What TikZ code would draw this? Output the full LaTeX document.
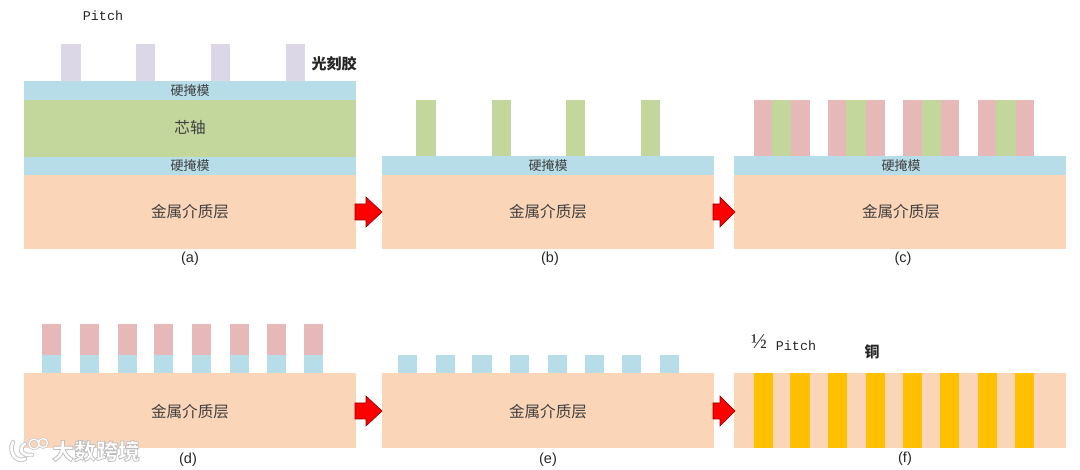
\documentclass[tikz,border=0pt]{standalone}
\usepackage{fontspec}
\setmainfont{Liberation Sans}
\newfontfamily\cjk{Noto Sans CJK SC}
\newfontfamily\pitchfont{Liberation Mono}
\newfontfamily\fracfont{Liberation Serif}
\definecolor{maskblue}{HTML}{B7DDE8}
\definecolor{mandrelgreen}{HTML}{C3D69B}
\definecolor{dielorange}{HTML}{FBD5B8}
\definecolor{spacerpink}{HTML}{E6B9B8}
\definecolor{resistlav}{HTML}{DCD7E6}
\definecolor{coppergold}{HTML}{FFC000}
\definecolor{labelgrey}{HTML}{404040}
\definecolor{arrowred}{HTML}{FF0000}
\definecolor{arrowedge}{HTML}{900000}
\newcommand{\blk}[5]{\fill[#1] (#2,#3) rectangle (#4,#5);}
% #1 left end, #2 mid height, #3 shaft length, #4 head length
\newcommand{\flowarrow}[4]{\filldraw[flowarr] (#1,#2-8) -- ++(#3,0) -- ++(0,-7) -- ++(#4,15) -- ++(-#4,15) -- ++(0,-7) -- ++(-#3,0) -- cycle;}
\tikzset{
  x=1pt,y=-1pt,
  flowarr/.style={fill=arrowred,draw=arrowedge,line width=0.6pt,line join=miter},
  smallcn/.style={font=\cjk\fontsize{13}{13}\selectfont,text=labelgrey,inner sep=0pt},
  bigcn/.style={font=\cjk\fontsize{15.6}{16}\selectfont,text=labelgrey,inner sep=0pt},
  boldcn/.style={font=\cjk\bfseries\fontsize{15}{15}\selectfont,text=black!85,inner sep=0pt},
  pitchlbl/.style={font=\pitchfont\fontsize{13.4}{14}\selectfont,text=black!85,inner sep=0pt},
  caption/.style={font=\fontsize{14.5}{15}\selectfont,text=black!85,inner sep=0pt},
  wmark/.style={font=\cjk\bfseries\fontsize{22}{22}\selectfont,inner sep=0pt},
}
\begin{document}
\begin{tikzpicture}
\useasboundingbox (0,0) rectangle (1080,470);
% panel a
\foreach \a/\b in {61/81,136/155,211/230,286/305}{\blk{resistlav}{\a}{44}{\b}{81}}
\blk{maskblue}{24}{81}{356}{100}
\blk{mandrelgreen}{24}{100}{356}{157}
\blk{maskblue}{24}{157}{356}{175}
\blk{dielorange}{24}{175}{356}{249}
\node[pitchlbl] (pitchA) at (103,16) {Pitch};
\node[boldcn] (resist) at (334,64) {光刻胶};
\node[smallcn] (maskA1) at (190,90.5) {硬掩模};
\node[bigcn] (mandrel) at (190,128) {芯轴};
\node[smallcn] (maskA2) at (190,165.5) {硬掩模};
\node[bigcn] (dielA) at (190,212) {金属介质层};
\node[caption] (capA) at (190,259) {(a)};
% panel b
\foreach \a/\b in {416/435.5,492/511,566/585,641/660}{\blk{mandrelgreen}{\a}{100}{\b}{156}}
\blk{maskblue}{382}{156}{714}{175}
\blk{dielorange}{382}{175}{714}{249}
\node[smallcn] (maskB) at (548,165.5) {硬掩模};
\node[bigcn] (dielB) at (548,212) {金属介质层};
\node[caption] (capB) at (550,259) {(b)};
% panel c
\foreach \a/\b in {753.5/810,828/885,903/959,978/1034}{\blk{spacerpink}{\a}{100}{\b}{156}}
\foreach \a/\b in {772/791,846/866,922/941,996/1016}{\blk{mandrelgreen}{\a}{100}{\b}{156}}
\blk{maskblue}{734}{156}{1066}{175}
\blk{dielorange}{734}{175}{1066}{249}
\node[smallcn] (maskC) at (901,165.5) {硬掩模};
\node[bigcn] (dielC) at (901,212) {金属介质层};
\node[caption] (capC) at (903,259) {(c)};
% panel d
\foreach \a/\b in {42/61,80/99,118/136.5,154/173,192/211,230/249,267/286,304/323}{
  \blk{spacerpink}{\a}{324}{\b}{355}
  \blk{maskblue}{\a}{355}{\b}{373}}
\blk{dielorange}{24}{373}{356}{448}
\node[bigcn] (dielD) at (190,412) {金属介质层};
\node[caption] (capD) at (188,460) {(d)};
% panel e
\foreach \a/\b in {398/417,435.5/455,472/492,510/529,548/567,584.5/604,622/641,660/679}{\blk{maskblue}{\a}{355}{\b}{373}}
\blk{dielorange}{382}{373}{714}{448}
\node[bigcn] (dielE) at (548,412) {金属介质层};
\node[caption] (capE) at (548,460) {(e)};
% panel f
\blk{dielorange}{734}{373}{1066}{448}
\foreach \a/\b in {753.5/773,790/810,828/847,866/885,903/922,940/959,978/997,1015/1034}{\blk{coppergold}{\a}{373}{\b}{448}}
\node[pitchlbl,font=\fracfont\fontsize{21}{22}\selectfont] (half) at (759,342) {½};
\node[pitchlbl] (pitchF) at (796,346) {Pitch};
\node[boldcn] (copper) at (872,352) {铜};
\node[caption] (capF) at (905,459) {(f)};
% arrows
\flowarrow{355}{212}{11}{16}
\flowarrow{713}{212}{7}{15}
\flowarrow{355}{411}{11}{16}
\flowarrow{713}{411}{7}{15}
% watermark
\draw[black!22,line width=4.5pt,line cap=round] (13,442) .. controls (8,452) and (16,463) .. (25,459) (25,444) .. controls (19,447) and (19,456) .. (32,455);
\draw[black!22,line width=2.6pt] (34,444) circle (5) (43,443) circle (4.5);
\draw[white,line width=2.6pt,line cap=round] (13,442) .. controls (8,452) and (16,463) .. (25,459) (25,444) .. controls (19,447) and (19,456) .. (32,455);
\draw[white,line width=1.2pt] (34,444) circle (5) (43,443) circle (4.5);
\node[wmark,text=white] (mark) at (96,451) {\special{pdf:code 2 Tr 0.75 G 0.8 w}大数跨境\special{pdf:code 0 Tr}};
\end{tikzpicture}
\end{document}
